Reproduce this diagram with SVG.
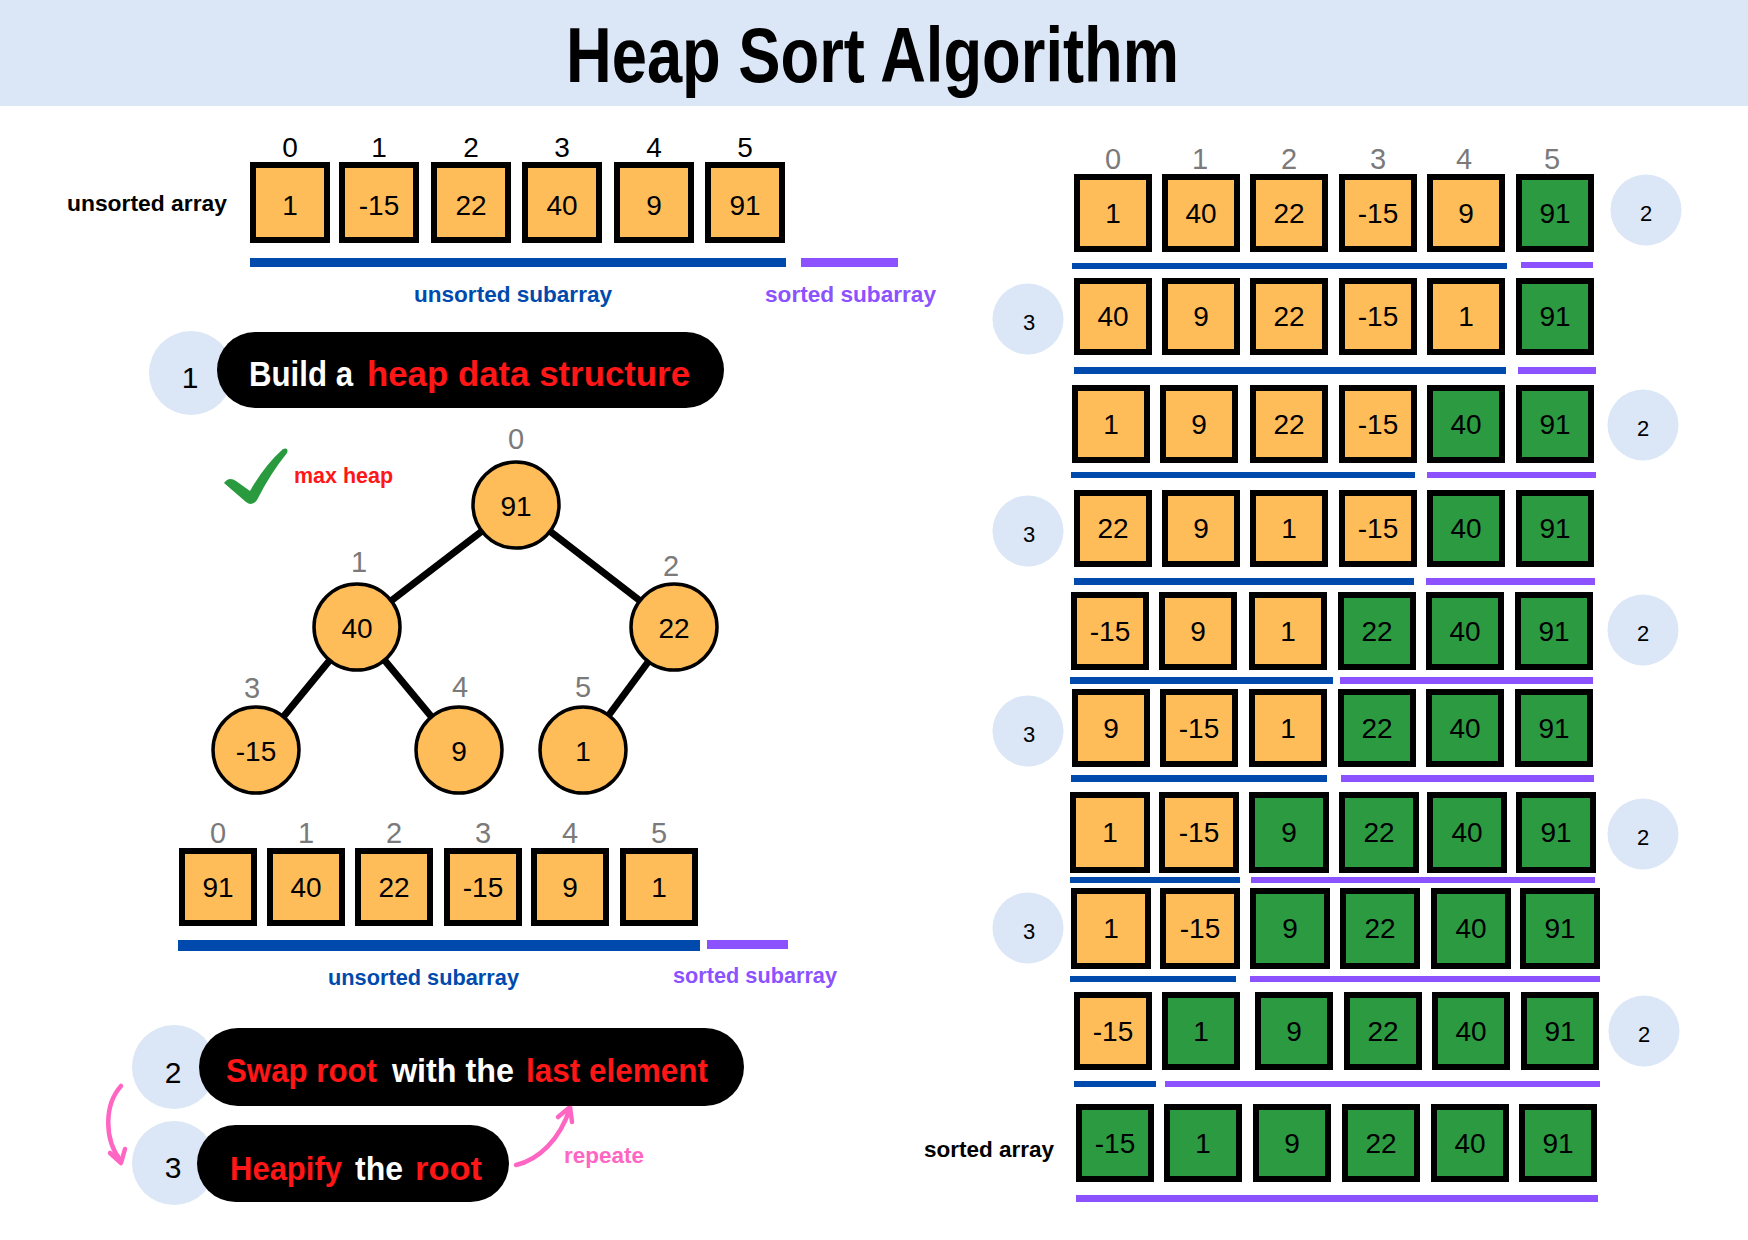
<svg xmlns="http://www.w3.org/2000/svg" width="1748" height="1240" viewBox="0 0 1748 1240">
<style>
.lbl{font-family:"Liberation Sans",Arial,sans-serif;font-weight:bold}
.num{font-family:"Liberation Sans",Arial,sans-serif;font-size:28px;text-anchor:middle;fill:#000}
.idx{font-family:"Liberation Sans",Arial,sans-serif;font-size:29px;text-anchor:middle;fill:#7a7a7a}
.idxk{font-family:"Liberation Sans",Arial,sans-serif;font-size:28px;text-anchor:middle;fill:#000}
.bo{fill:#ffbd59;stroke:#000;stroke-width:6}
.bg{fill:#2c9a41;stroke:#000;stroke-width:6}
.blue{fill:#004aad}
.purple{fill:#8c52ff}
.step{fill:#dbe6f6}
.pill{fill:#000}
.red{fill:#ff1616}
.white{fill:#fff}
.tn{fill:#ffbd59;stroke:#000;stroke-width:3.5}
.edge{stroke:#000;stroke-width:7;fill:none}
.pink{stroke:#ff66c4;stroke-width:4.5;fill:none;stroke-linecap:round;stroke-linejoin:round}
.cn{font-family:"Liberation Sans",Arial,sans-serif;font-size:22px;text-anchor:middle;fill:#000}
.sn{font-family:"Liberation Sans",Arial,sans-serif;font-size:30px;text-anchor:middle;fill:#000}
</style>

<g id="title">
<rect x="0" y="0" width="1748" height="106" fill="#dbe6f6"/>
<text class="lbl" x="566" y="82" font-size="78" textLength="613" lengthAdjust="spacingAndGlyphs" fill="#000">Heap Sort Algorithm</text>
</g>

<g id="connectors">
<line class="edge" x1="516" y1="505" x2="357" y2="627"/>
<line class="edge" x1="516" y1="505" x2="674" y2="627"/>
<line class="edge" x1="357" y1="627" x2="256" y2="750"/>
<line class="edge" x1="357" y1="627" x2="459" y2="750"/>
<line class="edge" x1="674" y1="627" x2="583" y2="750"/>
<path class="pink" d="M121,1086 C104,1105 104,1140 121,1161"/>
<path class="pink" d="M110,1153 L121,1163 L125,1149"/>
<path class="pink" d="M516,1165 C538,1160 560,1140 570,1108"/>
<path class="pink" d="M558,1117 L570,1107 L572,1122"/>
</g>

<g id="unsorted-array">
<text class="lbl" x="67" y="211" font-size="22" textLength="160" lengthAdjust="spacingAndGlyphs" fill="#000">unsorted array</text>
<text class="idxk" x="290" y="157">0</text>
<text class="idxk" x="379" y="157">1</text>
<text class="idxk" x="471" y="157">2</text>
<text class="idxk" x="562" y="157">3</text>
<text class="idxk" x="654" y="157">4</text>
<text class="idxk" x="745" y="157">5</text>
<rect class="bo" x="253" y="165" width="74" height="75"/>
<rect class="bo" x="342" y="165" width="74" height="75"/>
<rect class="bo" x="434" y="165" width="74" height="75"/>
<rect class="bo" x="525" y="165" width="74" height="75"/>
<rect class="bo" x="617" y="165" width="74" height="75"/>
<rect class="bo" x="708" y="165" width="74" height="75"/>
<text class="num" font-size="30" x="290" y="215">1</text>
<text class="num" font-size="30" x="379" y="215">-15</text>
<text class="num" font-size="30" x="471" y="215">22</text>
<text class="num" font-size="30" x="562" y="215">40</text>
<text class="num" font-size="30" x="654" y="215">9</text>
<text class="num" font-size="30" x="745" y="215">91</text>
<rect class="blue" x="250" y="258" width="536" height="9"/>
<rect class="purple" x="801" y="258" width="97" height="9"/>
<text class="lbl" x="414" y="302" font-size="22" textLength="198" lengthAdjust="spacingAndGlyphs" fill="#004aad">unsorted subarray</text>
<text class="lbl" x="765" y="302" font-size="22" textLength="171" lengthAdjust="spacingAndGlyphs" fill="#8c52ff">sorted subarray</text>
</g>

<g id="step1">
<circle class="step" cx="191" cy="373" r="42"/>
<text class="sn" x="190" y="388">1</text>
<rect class="pill" x="217" y="332" width="507" height="76" rx="38"/>
<text class="lbl white" x="249" y="386" font-size="35" textLength="104" lengthAdjust="spacingAndGlyphs">Build a</text>
<text class="lbl red" x="367" y="386" font-size="35" textLength="323" lengthAdjust="spacingAndGlyphs">heap data structure</text>
</g>

<g id="max-heap-label">
<path d="M224,483 Q229,476 236,481 L250,491 Q264,466 283,449 Q289,447 287,453 Q270,474 257,500 Q252,507 246,502 Z" fill="#2a9a3f"/>
<text class="lbl" x="294" y="483" font-size="22" textLength="99" lengthAdjust="spacingAndGlyphs" fill="#ff1616">max heap</text>
</g>

<g id="node0"><text class="idx" x="516" y="449" font-size="31">0</text><circle class="tn" cx="516" cy="505" r="43"/><text class="num" x="516" y="516">91</text></g>
<g id="node1"><text class="idx" x="359" y="572" font-size="31">1</text><circle class="tn" cx="357" cy="627" r="43"/><text class="num" x="357" y="638">40</text></g>
<g id="node2"><text class="idx" x="671" y="576" font-size="31">2</text><circle class="tn" cx="674" cy="627" r="43"/><text class="num" x="674" y="638">22</text></g>
<g id="node3"><text class="idx" x="252" y="698" font-size="31">3</text><circle class="tn" cx="256" cy="750" r="43"/><text class="num" x="256" y="761">-15</text></g>
<g id="node4"><text class="idx" x="460" y="697" font-size="31">4</text><circle class="tn" cx="459" cy="750" r="43"/><text class="num" x="459" y="761">9</text></g>
<g id="node5"><text class="idx" x="583" y="697" font-size="31">5</text><circle class="tn" cx="583" cy="750" r="43"/><text class="num" x="583" y="761">1</text></g>

<g id="heap-array">
<text class="idx" x="218" y="843">0</text>
<text class="idx" x="306" y="843">1</text>
<text class="idx" x="394" y="843">2</text>
<text class="idx" x="483" y="843">3</text>
<text class="idx" x="570" y="843">4</text>
<text class="idx" x="659" y="843">5</text>
<rect class="bo" x="182" y="851" width="72" height="72"/>
<rect class="bo" x="270" y="851" width="72" height="72"/>
<rect class="bo" x="358" y="851" width="72" height="72"/>
<rect class="bo" x="447" y="851" width="72" height="72"/>
<rect class="bo" x="534" y="851" width="72" height="72"/>
<rect class="bo" x="623" y="851" width="72" height="72"/>
<text class="num" x="218" y="897">91</text>
<text class="num" x="306" y="897">40</text>
<text class="num" x="394" y="897">22</text>
<text class="num" x="483" y="897">-15</text>
<text class="num" x="570" y="897">9</text>
<text class="num" x="659" y="897">1</text>
<rect class="blue" x="178" y="940" width="522" height="11"/>
<rect class="purple" x="707" y="940" width="81" height="9"/>
<text class="lbl" x="328" y="985" font-size="22" textLength="191" lengthAdjust="spacingAndGlyphs" fill="#004aad">unsorted subarray</text>
<text class="lbl" x="673" y="983" font-size="22" textLength="164" lengthAdjust="spacingAndGlyphs" fill="#8c52ff">sorted subarray</text>
</g>

<g id="step2">
<circle class="step" cx="174" cy="1067" r="42"/>
<text class="sn" x="173" y="1083">2</text>
<rect class="pill" x="199" y="1028" width="545" height="78" rx="39"/>
<text class="lbl red" x="226" y="1082" font-size="34" textLength="151" lengthAdjust="spacingAndGlyphs">Swap root</text>
<text class="lbl white" x="392" y="1082" font-size="34" textLength="122" lengthAdjust="spacingAndGlyphs">with the</text>
<text class="lbl red" x="526" y="1082" font-size="34" textLength="182" lengthAdjust="spacingAndGlyphs">last element</text>
</g>

<g id="step3">
<circle class="step" cx="174" cy="1163" r="42"/>
<text class="sn" x="173" y="1178">3</text>
<rect class="pill" x="197" y="1125" width="312" height="77" rx="38.5"/>
<text class="lbl red" x="230" y="1180" font-size="34" textLength="112" lengthAdjust="spacingAndGlyphs">Heapify</text>
<text class="lbl white" x="355" y="1180" font-size="34" textLength="48" lengthAdjust="spacingAndGlyphs">the</text>
<text class="lbl red" x="415" y="1180" font-size="34" textLength="67" lengthAdjust="spacingAndGlyphs">root</text>
</g>

<g id="repeat-label">
<text class="lbl" x="564" y="1163" font-size="22" textLength="80" lengthAdjust="spacingAndGlyphs" fill="#ff66c4">repeate</text>
</g>

<g id="right-indices">
<text class="idx" x="1113" y="169">0</text>
<text class="idx" x="1200" y="169">1</text>
<text class="idx" x="1289" y="169">2</text>
<text class="idx" x="1378" y="169">3</text>
<text class="idx" x="1464" y="169">4</text>
<text class="idx" x="1552" y="169">5</text>
</g>

<g id="row1">
<rect class="bo" x="1077" y="177" width="72" height="72"/><rect class="bo" x="1165" y="177" width="72" height="72"/><rect class="bo" x="1253" y="177" width="72" height="72"/><rect class="bo" x="1342" y="177" width="72" height="72"/><rect class="bo" x="1430" y="177" width="72" height="72"/><rect class="bg" x="1519" y="177" width="72" height="72"/>
<text class="num" x="1113" y="223">1</text><text class="num" x="1201" y="223">40</text><text class="num" x="1289" y="223">22</text><text class="num" x="1378" y="223">-15</text><text class="num" x="1466" y="223">9</text><text class="num" x="1555" y="223">91</text>
<rect class="blue" x="1072" y="263" width="435" height="6"/><rect class="purple" x="1521" y="262" width="72" height="6"/>
<circle class="step" cx="1646" cy="210" r="35.5"/><text class="cn" x="1646" y="221">2</text>
</g>

<g id="row2">
<rect class="bo" x="1077" y="281" width="72" height="71"/><rect class="bo" x="1165" y="281" width="72" height="71"/><rect class="bo" x="1253" y="281" width="72" height="71"/><rect class="bo" x="1342" y="281" width="72" height="71"/><rect class="bo" x="1430" y="281" width="72" height="71"/><rect class="bg" x="1519" y="281" width="72" height="71"/>
<text class="num" x="1113" y="326">40</text><text class="num" x="1201" y="326">9</text><text class="num" x="1289" y="326">22</text><text class="num" x="1378" y="326">-15</text><text class="num" x="1466" y="326">1</text><text class="num" x="1555" y="326">91</text>
<rect class="blue" x="1074" y="367" width="432" height="7"/><rect class="purple" x="1518" y="367" width="78" height="7"/>
<circle class="step" cx="1028" cy="319" r="35.5"/><text class="cn" x="1029" y="330">3</text>
</g>

<g id="row3">
<rect class="bo" x="1075" y="388" width="72" height="72"/><rect class="bo" x="1163" y="388" width="72" height="72"/><rect class="bo" x="1253" y="388" width="72" height="72"/><rect class="bo" x="1342" y="388" width="72" height="72"/><rect class="bg" x="1430" y="388" width="72" height="72"/><rect class="bg" x="1519" y="388" width="72" height="72"/>
<text class="num" x="1111" y="434">1</text><text class="num" x="1199" y="434">9</text><text class="num" x="1289" y="434">22</text><text class="num" x="1378" y="434">-15</text><text class="num" x="1466" y="434">40</text><text class="num" x="1555" y="434">91</text>
<rect class="blue" x="1071" y="472" width="344" height="6"/><rect class="purple" x="1427" y="472" width="169" height="6"/>
<circle class="step" cx="1643" cy="425" r="35.5"/><text class="cn" x="1643" y="436">2</text>
</g>

<g id="row4">
<rect class="bo" x="1077" y="493" width="72" height="71"/><rect class="bo" x="1165" y="493" width="72" height="71"/><rect class="bo" x="1253" y="493" width="72" height="71"/><rect class="bo" x="1342" y="493" width="72" height="71"/><rect class="bg" x="1430" y="493" width="72" height="71"/><rect class="bg" x="1519" y="493" width="72" height="71"/>
<text class="num" x="1113" y="538">22</text><text class="num" x="1201" y="538">9</text><text class="num" x="1289" y="538">1</text><text class="num" x="1378" y="538">-15</text><text class="num" x="1466" y="538">40</text><text class="num" x="1555" y="538">91</text>
<rect class="blue" x="1074" y="578" width="340" height="7"/><rect class="purple" x="1426" y="578" width="169" height="7"/>
<circle class="step" cx="1028" cy="531" r="35.5"/><text class="cn" x="1029" y="542">3</text>
</g>

<g id="row5">
<rect class="bo" x="1074" y="595" width="72" height="72"/><rect class="bo" x="1162" y="595" width="72" height="72"/><rect class="bo" x="1252" y="595" width="72" height="72"/><rect class="bg" x="1341" y="595" width="72" height="72"/><rect class="bg" x="1429" y="595" width="72" height="72"/><rect class="bg" x="1518" y="595" width="72" height="72"/>
<text class="num" x="1110" y="641">-15</text><text class="num" x="1198" y="641">9</text><text class="num" x="1288" y="641">1</text><text class="num" x="1377" y="641">22</text><text class="num" x="1465" y="641">40</text><text class="num" x="1554" y="641">91</text>
<rect class="blue" x="1070" y="677" width="263" height="7"/><rect class="purple" x="1340" y="677" width="253" height="7"/>
<circle class="step" cx="1643" cy="630" r="35.5"/><text class="cn" x="1643" y="641">2</text>
</g>

<g id="row6">
<rect class="bo" x="1075" y="692" width="72" height="72"/><rect class="bo" x="1163" y="692" width="72" height="72"/><rect class="bo" x="1252" y="692" width="72" height="72"/><rect class="bg" x="1341" y="692" width="72" height="72"/><rect class="bg" x="1429" y="692" width="72" height="72"/><rect class="bg" x="1518" y="692" width="72" height="72"/>
<text class="num" x="1111" y="738">9</text><text class="num" x="1199" y="738">-15</text><text class="num" x="1288" y="738">1</text><text class="num" x="1377" y="738">22</text><text class="num" x="1465" y="738">40</text><text class="num" x="1554" y="738">91</text>
<rect class="blue" x="1071" y="775" width="256" height="7"/><rect class="purple" x="1341" y="775" width="253" height="7"/>
<circle class="step" cx="1028" cy="731" r="35.5"/><text class="cn" x="1029" y="742">3</text>
</g>

<g id="row7">
<rect class="bo" x="1073" y="795" width="74" height="75"/><rect class="bo" x="1162" y="795" width="74" height="75"/><rect class="bg" x="1252" y="795" width="74" height="75"/><rect class="bg" x="1342" y="795" width="74" height="75"/><rect class="bg" x="1430" y="795" width="74" height="75"/><rect class="bg" x="1519" y="795" width="74" height="75"/>
<text class="num" x="1110" y="842">1</text><text class="num" x="1199" y="842">-15</text><text class="num" x="1289" y="842">9</text><text class="num" x="1379" y="842">22</text><text class="num" x="1467" y="842">40</text><text class="num" x="1556" y="842">91</text>
<rect class="blue" x="1070" y="877" width="170" height="6"/><rect class="purple" x="1251" y="877" width="344" height="6"/>
<circle class="step" cx="1643" cy="834" r="35.5"/><text class="cn" x="1643" y="845">2</text>
</g>

<g id="row8">
<rect class="bo" x="1074" y="891" width="74" height="75"/><rect class="bo" x="1163" y="891" width="74" height="75"/><rect class="bg" x="1253" y="891" width="74" height="75"/><rect class="bg" x="1343" y="891" width="74" height="75"/><rect class="bg" x="1434" y="891" width="74" height="75"/><rect class="bg" x="1523" y="891" width="74" height="75"/>
<text class="num" x="1111" y="938">1</text><text class="num" x="1200" y="938">-15</text><text class="num" x="1290" y="938">9</text><text class="num" x="1380" y="938">22</text><text class="num" x="1471" y="938">40</text><text class="num" x="1560" y="938">91</text>
<rect class="blue" x="1070" y="976" width="166" height="6"/><rect class="purple" x="1250" y="976" width="350" height="6"/>
<circle class="step" cx="1028" cy="928" r="35.5"/><text class="cn" x="1029" y="939">3</text>
</g>

<g id="row9">
<rect class="bo" x="1077" y="995" width="72" height="72"/><rect class="bg" x="1165" y="995" width="72" height="72"/><rect class="bg" x="1258" y="995" width="72" height="72"/><rect class="bg" x="1347" y="995" width="72" height="72"/><rect class="bg" x="1435" y="995" width="72" height="72"/><rect class="bg" x="1524" y="995" width="72" height="72"/>
<text class="num" x="1113" y="1041">-15</text><text class="num" x="1201" y="1041">1</text><text class="num" x="1294" y="1041">9</text><text class="num" x="1383" y="1041">22</text><text class="num" x="1471" y="1041">40</text><text class="num" x="1560" y="1041">91</text>
<rect class="blue" x="1074" y="1081" width="82" height="6"/><rect class="purple" x="1165" y="1081" width="435" height="6"/>
<circle class="step" cx="1644" cy="1031" r="35.5"/><text class="cn" x="1644" y="1042">2</text>
</g>

<g id="sorted-array">
<text class="lbl" x="924" y="1157" font-size="22" textLength="130" lengthAdjust="spacingAndGlyphs" fill="#000">sorted array</text>
<rect class="bg" x="1079" y="1107" width="72" height="72"/><rect class="bg" x="1167" y="1107" width="72" height="72"/><rect class="bg" x="1256" y="1107" width="72" height="72"/><rect class="bg" x="1345" y="1107" width="72" height="72"/><rect class="bg" x="1434" y="1107" width="72" height="72"/><rect class="bg" x="1522" y="1107" width="72" height="72"/>
<text class="num" x="1115" y="1153">-15</text><text class="num" x="1203" y="1153">1</text><text class="num" x="1292" y="1153">9</text><text class="num" x="1381" y="1153">22</text><text class="num" x="1470" y="1153">40</text><text class="num" x="1558" y="1153">91</text>
<rect class="purple" x="1076" y="1195" width="522" height="7"/>
</g>
</svg>
